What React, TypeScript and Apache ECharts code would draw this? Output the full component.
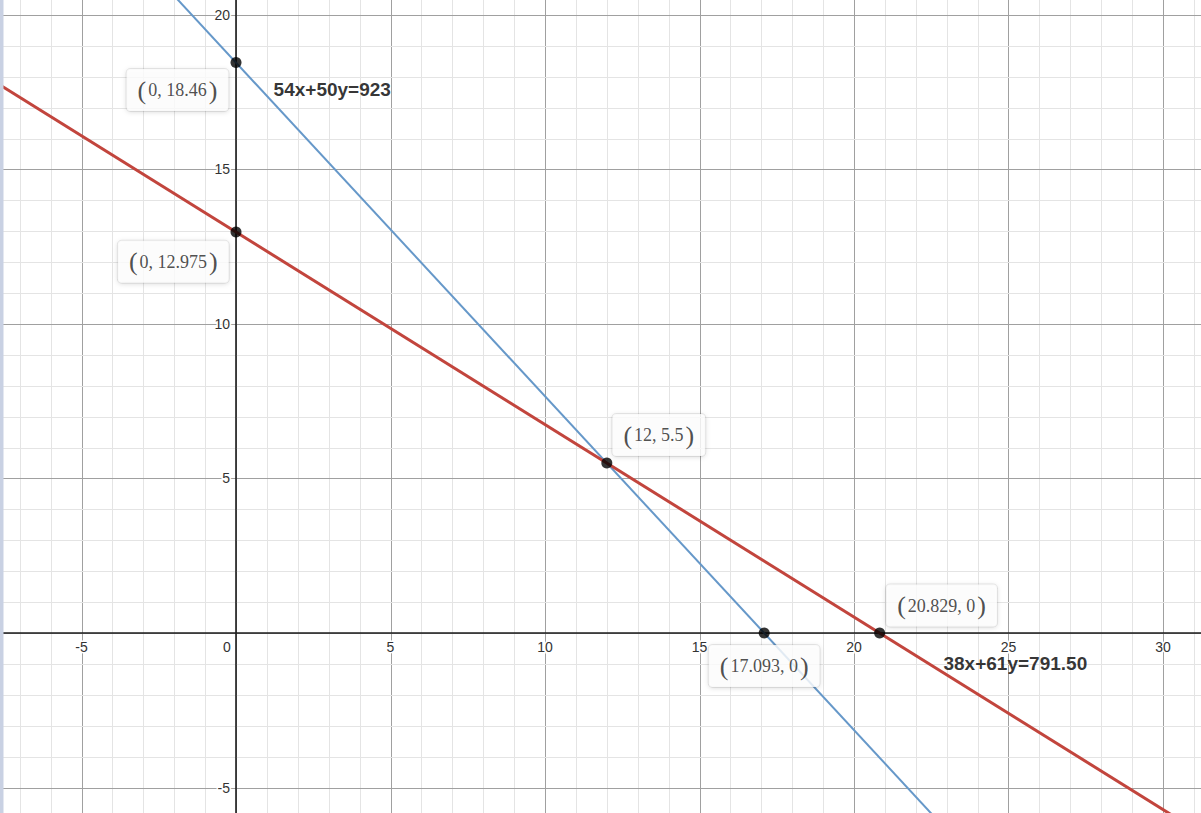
import React, { useEffect, useRef } from "react";
import * as echarts from "echarts";

// Visible window of the graph (data units)
const X_MIN = -7.638;
const X_MAX = 31.23;
const Y_MIN = -5.825;
const Y_MAX = 20.485;
const WIDTH = 1201;
const HEIGHT = 813;

// Lines written as a*x + b*y = c
const lineNames = ["54x+50y=923", "38x+61y=791.50"];
const coefA = [54, 38];
const coefB = [50, 61];
const coefC = [923, 791.5];
const lineColors = ["#6698c9", "#c2453d"];
const lineWidths = [2, 3];

// Marked points (intercepts and intersection)
const pointX = [0, 0, 12, 17.093, 20.829];
const pointY = [18.46, 12.975, 5.5, 0, 0];

// Where each line's equation is written (data units)
const eqLabelX = [1.2, 22.88];
const eqLabelY = [17.6, -1.0];

// Tick labels
const xTickLabels = [-5, 0, 5, 10, 15, 20, 25, 30];
const yTickLabels = [-5, 5, 10, 15, 20];

// Grid line positions (every unit; multiples of 5 are major)
const gridX = [-7, -6, -5, -4, -3, -2, -1, 0, 1, 2, 3, 4, 5, 6, 7, 8, 9, 10, 11, 12, 13, 14, 15, 16, 17, 18, 19, 20, 21, 22, 23, 24, 25, 26, 27, 28, 29, 30, 31];
const gridY = [-5, -4, -3, -2, -1, 0, 1, 2, 3, 4, 5, 6, 7, 8, 9, 10, 11, 12, 13, 14, 15, 16, 17, 18, 19, 20];

// Label box offsets from each point (px), styling only
const pointLabelOffsets: [number, number][] = [
  [-58.5, 27.5],
  [-62.7, 29.7],
  [52, -28],
  [0, 33],
  [62, -27.5],
];
const eqFontSizes = [19, 19];

const MINOR = "#e4e4e4";
const MAJOR = "#a0a0a0";

// Pixel distance of the origin from the plot's left and bottom edges,
// used to draw both axes through the origin.
const originFromLeft = ((0 - X_MIN) / (X_MAX - X_MIN)) * WIDTH;
const originFromBottom = ((0 - Y_MIN) / (Y_MAX - Y_MIN)) * HEIGHT;

function gridSeries(values: number[], vertical: boolean) {
  return {
    type: "custom",
    silent: true,
    z: 1,
    clip: true,
    data: values.map((v) => [v]),
    renderItem: (_params: any, api: any) => {
      const v = api.value(0);
      const p1 = vertical ? api.coord([v, Y_MIN]) : api.coord([X_MIN, v]);
      const p2 = vertical ? api.coord([v, Y_MAX]) : api.coord([X_MAX, v]);
      const major = v % 5 === 0;
      const snap = (n: number) => Math.round(n) + 0.5;
      return {
        type: "line",
        shape: vertical
          ? { x1: snap(p1[0]), y1: p1[1], x2: snap(p2[0]), y2: p2[1] }
          : { x1: p1[0], y1: snap(p1[1]), x2: p2[0], y2: snap(p2[1]) },
        style: { stroke: major ? MAJOR : MINOR, lineWidth: 1 },
      };
    },
  };
}

const tickText = {
  fontFamily: "Liberation Sans",
  fontSize: 14,
  color: "#333",
  textBorderColor: "#fff",
  textBorderWidth: 3,
};

export default function App() {
  const ref = useRef<HTMLDivElement>(null);

  useEffect(() => {
    document.body.style.margin = "0";
    if (!ref.current) return;
    const chart = echarts.init(ref.current, null, { renderer: "svg" });

    const lineSeries = lineNames.map((name, i) => ({
      type: "line",
      name,
      z: 4,
      symbol: "none",
      clip: true,
      lineStyle: { color: lineColors[i], width: lineWidths[i] },
      data: [X_MIN, X_MAX].map((x) => [x, (coefC[i] - coefA[i] * x) / coefB[i]]),
    }));

    const pointSeries = {
      type: "scatter",
      z: 6,
      symbol: "circle",
      symbolSize: 11,
      itemStyle: { color: "#000" },
      data: pointX.map((x, i) => ({
        value: [x, pointY[i]],
        label: { offset: pointLabelOffsets[i] },
      })),
      label: {
        show: true,
        position: "inside",
        formatter: (p: any) => `{p|(}{t|${p.value[0]}, ${p.value[1]}}{p|)}`,
        backgroundColor: "#ffffff",
        borderColor: "rgba(0,0,0,0.10)",
        borderWidth: 1,
        borderRadius: 4,
        shadowColor: "rgba(0,0,0,0.18)",
        shadowBlur: 5,
        shadowOffsetY: 1,
        padding: [7, 9, 7, 9],
        rich: {
          p: {
            fontFamily: "Liberation Serif",
            fontSize: 26,
            color: "#222",
            lineHeight: 28,
            padding: [0, 2, 0, 2],
          },
          t: {
            fontFamily: "Liberation Serif",
            fontSize: 18,
            color: "#222",
            lineHeight: 28,
          },
        },
      },
    };

    const eqSeries = {
      type: "scatter",
      z: 7,
      symbolSize: 1,
      itemStyle: { color: "transparent" },
      data: eqLabelX.map((x, i) => ({
        value: [x, eqLabelY[i]],
        label: { fontSize: eqFontSizes[i] },
      })),
      label: {
        show: true,
        position: "right",
        distance: 0,
        formatter: (p: any) => lineNames[p.dataIndex],
        fontFamily: "Liberation Sans",
        fontWeight: "bold",
        color: "#000",
      },
    };

    chart.setOption({
      animation: false,
      backgroundColor: "#ffffff",
      grid: {
        left: 0,
        right: 0,
        top: 0,
        bottom: 0,
        containLabel: false,
        outerBoundsMode: "none",
      },
      xAxis: {
        type: "value",
        min: X_MIN,
        max: X_MAX,
        position: "bottom",
        offset: -originFromBottom,
        z: 3,
        axisLine: { onZero: false, lineStyle: { color: "#1c1c1c", width: 1.6 } },
        axisTick: { show: false },
        splitLine: { show: false },
        axisLabel: {
          customValues: xTickLabels,
          margin: 7,
          ...tickText,
          formatter: (v: number) => (v === 0 ? "{o|0}" : String(v)),
          rich: { o: { ...tickText, padding: [0, 18, 0, 0] } },
        },
      },
      yAxis: {
        type: "value",
        min: Y_MIN,
        max: Y_MAX,
        position: "left",
        offset: -originFromLeft,
        z: 3,
        axisLine: { onZero: false, lineStyle: { color: "#1c1c1c", width: 1.6 } },
        axisTick: { show: false },
        splitLine: { show: false },
        axisLabel: {
          customValues: yTickLabels,
          margin: 6,
          ...tickText,
        },
      },
      graphic: [
        {
          type: "rect",
          left: 0,
          top: 0,
          z: 100,
          shape: { width: 3.5, height: HEIGHT },
          style: { fill: "#c9d1e3" },
        },
      ],
      series: [gridSeries(gridX, true), gridSeries(gridY, false), ...lineSeries, pointSeries, eqSeries],
    });

    return () => chart.dispose();
  }, []);

  return <div ref={ref} style={{ width: WIDTH, height: HEIGHT }} />;
}
